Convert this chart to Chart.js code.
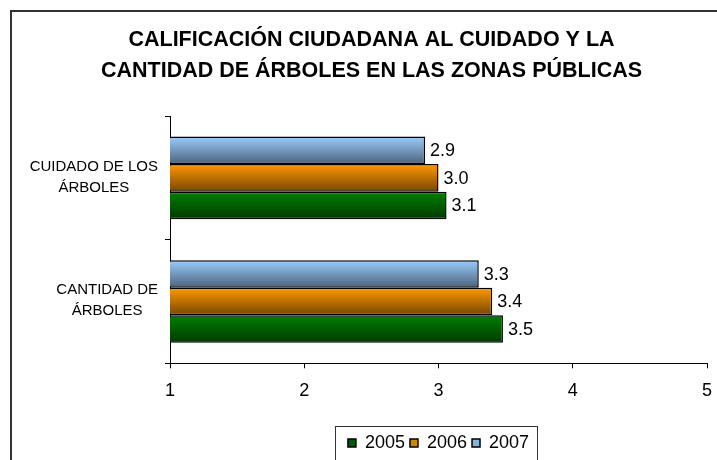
<!DOCTYPE html>
<html>
<head>
<meta charset="utf-8">
<script src="https://cdn.jsdelivr.net/npm/chart.js@4"></script>
<style>
  html, body { margin: 0; padding: 0; background: #fff; }
  canvas { display: block; }
</style>
</head>
<body>
<canvas id="chart" width="717" height="460"></canvas>
<script>
// data
const categories  = [['CUIDADO DE LOS', 'ÁRBOLES'], ['CANTIDAD DE', 'ÁRBOLES']];
const titleLines  = ['CALIFICACIÓN CIUDADANA AL CUIDADO Y LA', 'CANTIDAD DE ÁRBOLES EN LAS ZONAS PÚBLICAS'];
const values2005  = [3.06, 3.48];
const values2006  = [3.0, 3.4];
const values2007  = [2.9, 3.3];
const xTickValues = [1, 2, 3, 4, 5];

const FONT = '"Liberation Sans", Arial, sans-serif';
const GRADIENTS = {
  '2005': ['#008000', '#003a00'],
  '2006': ['#ff9900', '#784600'],
  '2007': ['#9ccdfb', '#4b627c'],
};

const frame = {
  id: 'frame',
  beforeDraw(chart) {
    const ctx = chart.ctx;
    ctx.save();
    ctx.fillStyle = '#fff';
    ctx.fillRect(0, 0, chart.width, chart.height);
    ctx.strokeStyle = '#333';
    ctx.lineWidth = 2;
    ctx.beginPath();
    ctx.moveTo(11, chart.height);
    ctx.lineTo(11, 11);
    ctx.lineTo(chart.width, 11);
    ctx.stroke();
    ctx.restore();
  }
};

// vertical light-to-dark fill on every bar
const gradientBars = {
  id: 'gradientBars',
  beforeDatasetsDraw(chart) {
    const ctx = chart.ctx;
    chart.data.datasets.forEach((ds, i) => {
      const [top, bottom] = GRADIENTS[ds.label];
      chart.getDatasetMeta(i).data.forEach(bar => {
        const { y, height } = bar.getProps(['y', 'height'], true);
        const g = ctx.createLinearGradient(0, y - height / 2, 0, y + height / 2);
        g.addColorStop(0, top);
        g.addColorStop(1, bottom);
        const opts = Object.assign({}, bar.options, { backgroundColor: g });
        delete opts.$shared;
        bar.options = opts;
      });
    });
  }
};

const valueLabels = {
  id: 'valueLabels',
  afterDatasetsDraw(chart) {
    const ctx = chart.ctx;
    ctx.save();
    ctx.font = '18px ' + FONT;
    ctx.fillStyle = '#000';
    ctx.textAlign = 'left';
    ctx.textBaseline = 'middle';
    chart.data.datasets.forEach((ds, i) => {
      chart.getDatasetMeta(i).data.forEach((bar, j) => {
        ctx.fillText(ds.data[j].toFixed(1), bar.x + 5, bar.y + 1);
      });
    });
    ctx.restore();
  }
};

// category names: lines centred on each other, block right-aligned to the axis
const categoryLabels = {
  id: 'categoryLabels',
  afterDraw(chart) {
    const ctx = chart.ctx;
    const scale = chart.scales.y;
    ctx.save();
    ctx.font = '15px ' + FONT;
    ctx.fillStyle = '#000';
    ctx.textAlign = 'center';
    ctx.textBaseline = 'middle';
    categories.forEach((lines, i) => {
      const w = Math.max(...lines.map(t => ctx.measureText(t).width));
      const cx = scale.right - 12 - w / 2;
      const cy = scale.getPixelForTick(i) - 1;
      lines.forEach((t, k) => ctx.fillText(t, cx, cy + (k - (lines.length - 1) / 2) * 21));
    });
    ctx.restore();
  }
};

const legendFrame = {
  id: 'legendFrame',
  afterDraw(chart) {
    const boxes = chart.legend.legendHitBoxes;
    if (!boxes || !boxes.length) return;
    const first = boxes[0], last = boxes[boxes.length - 1];
    const left  = Math.round(first.left - 12.5) + 0.5;
    const right = Math.round(last.left + last.width + 8) + 0.5;
    const top   = Math.round(first.top - 8) + 0.5;
    const ctx = chart.ctx;
    ctx.save();
    ctx.strokeStyle = '#333';
    ctx.lineWidth = 1;
    ctx.strokeRect(left, top, right - left, chart.height);
    ctx.restore();
  }
};

new Chart(document.getElementById('chart'), {
  type: 'bar',
  data: {
    labels: categories,
    datasets: [
      { label: '2007', data: values2007, backgroundColor: '#86b2dc' },
      { label: '2006', data: values2006, backgroundColor: '#d88300' },
      { label: '2005', data: values2005, backgroundColor: '#005a00' },
    ]
  },
  options: {
    indexAxis: 'y',
    responsive: false,
    animation: false,
    events: [],
    layout: { padding: { left: 26, right: 0, top: 0, bottom: -2 } },
    datasets: {
      bar: {
        categoryPercentage: 0.668,
        barPercentage: 1,
        borderWidth: 1.5,
        borderColor: '#000',
        borderSkipped: false,
      }
    },
    plugins: {
      title: {
        display: true,
        text: titleLines,
        color: '#000',
        font: { family: FONT, size: 21.5, weight: 'bold', lineHeight: 1.42 },
        padding: { top: 25, bottom: 30 },
      },
      legend: {
        position: 'bottom',
        fullSize: false,
        reverse: true,
        labels: {
          color: '#000',
          font: { family: FONT, size: 18 },
          boxWidth: 8,
          boxHeight: 8,
          padding: 5,
        }
      },
      tooltip: { enabled: false }
    },
    scales: {
      x: {
        min: xTickValues[0],
        max: xTickValues[xTickValues.length - 1],
        afterBuildTicks: s => { s.ticks = xTickValues.map(v => ({ value: v })); },
        ticks: { color: '#000', font: { family: FONT, size: 18 }, padding: 12 },
        grid: { drawOnChartArea: false, tickLength: 5, color: '#000' },
        border: { color: '#000' },
        afterFit: s => { s.height = 65.7; s.paddingRight = 10; },
      },
      y: {
        ticks: { display: false },
        grid: { drawOnChartArea: false, tickLength: 5, color: '#000', offset: true },
        border: { color: '#000' },
        afterFit: s => { s.width = 144; },
      }
    }
  },
  plugins: [frame, gradientBars, valueLabels, categoryLabels, legendFrame]
});
</script>
</body>
</html>
